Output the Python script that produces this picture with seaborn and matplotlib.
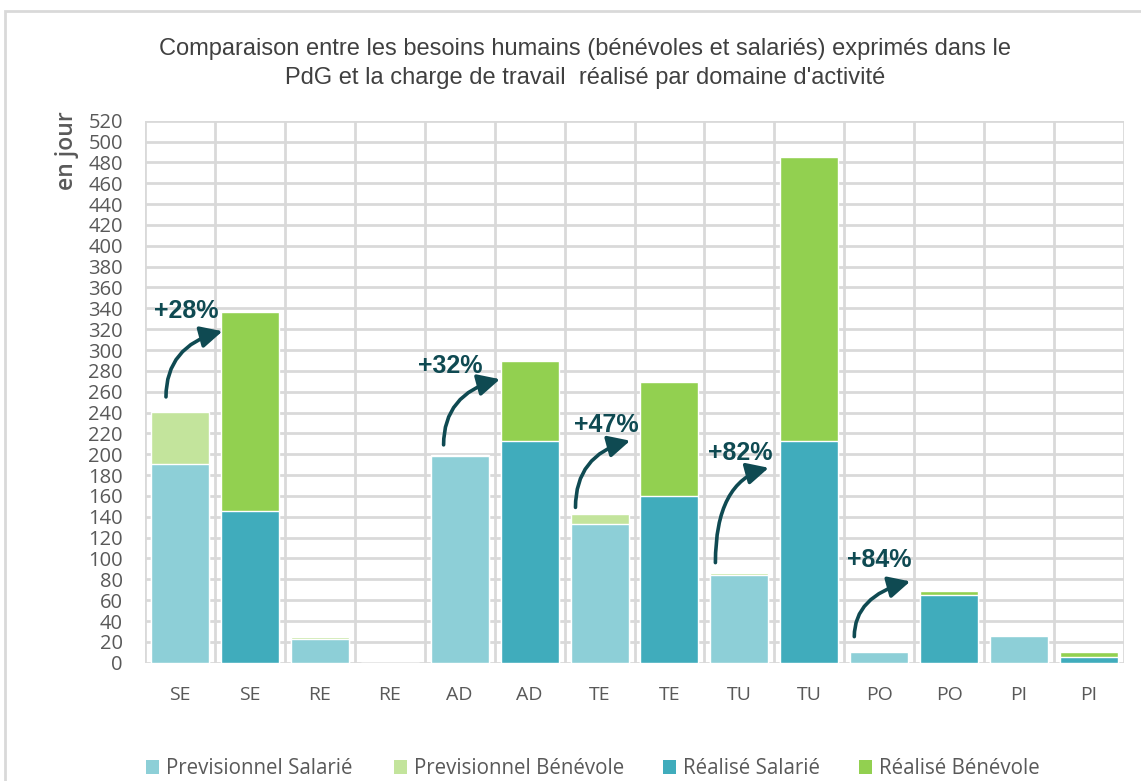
import matplotlib
matplotlib.use("Agg")
import matplotlib.pyplot as plt
from matplotlib.patches import Patch, Rectangle
import seaborn as sns
import pandas as pd
import numpy as np

# ---- data ----
categories = ["SE", "SE", "RE", "RE", "AD", "AD", "TE", "TE", "TU", "TU", "PO", "PO", "PI", "PI"]
phase = ["Previsionnel", "Réalisé"] * 7
salarie = [191, 146, 23, 0, 198, 213, 133, 160, 84, 213, 10, 65, 26, 5]
benevole = [50, 190, 2, 0, 1, 76, 10, 109, 2, 272, 0, 4, 0, 5]
yticks = list(range(0, 521, 20))

# annotations: label, start (x, y), tip (x, y)
ann_labels = ["+28%", "+32%", "+47%", "+82%", "+84%"]
ann_start = [(-0.2, 255), (3.77, 209), (5.656, 149), (7.657, 96), (9.643, 25)]
ann_tip = [(0.608, 318), (4.576, 272), (6.438, 213), (8.419, 187), (10.443, 78)]
ann_text = [(0.085, 337), (3.865, 285), (6.09, 228), (8.01, 201), (10.005, 99)]

legend_labels = ["Previsionnel Salarié", "Previsionnel Bénévole", "Réalisé Salarié", "Réalisé Bénévole"]

# ---- colours ----
c_prev_sal = "#8dcfd7"
c_prev_ben = "#c3e49c"
c_real_sal = "#40acbc"
c_real_ben = "#92d050"
grid_c = "#d9d9d9"
text_c = "#595959"
title_c = "#404040"
ann_c = "#0f4a52"

df = pd.DataFrame({
    "slot": list(range(len(categories))),
    "cat": categories,
    "phase": phase,
    "salarie": salarie,
    "benevole": benevole,
})
df["total"] = df["salarie"] + df["benevole"]

sal_pal = [c_prev_sal if p == "Previsionnel" else c_real_sal for p in phase]
ben_pal = [c_prev_ben if p == "Previsionnel" else c_real_ben for p in phase]

sns.set_theme(style="white")
plt.rcParams["font.family"] = ["Open Sans", "DejaVu Sans"]

fig = plt.figure(figsize=(11.41, 7.81), dpi=100)
ax = fig.add_axes([145 / 1141, 1 - 662.7 / 781, 979 / 1141, 542 / 781])

sns.barplot(data=df, x="slot", y="total", hue="slot", palette=ben_pal,
            legend=False, width=0.83, ax=ax, saturation=1, zorder=3)
sns.barplot(data=df, x="slot", y="salarie", hue="slot", palette=sal_pal,
            legend=False, width=0.83, ax=ax, saturation=1, zorder=4)

ax.set_xlim(-0.5, len(categories) - 0.5)
ax.set_ylim(0, 520)
ax.set_yticks(yticks)
ax.set_yticklabels([str(v) for v in yticks], fontsize=14.5, color=text_c)
ax.set_xticks(range(len(categories)))
ax.set_xticklabels(categories, fontsize=14, color=text_c)
ax.set_xticks(np.arange(-0.5, len(categories), 1.0), minor=True)
ax.tick_params(axis="y", length=0, pad=16)
ax.tick_params(axis="x", which="both", length=0, pad=17)
ax.set_xlabel("")
ax.set_ylabel("")
ax.grid(True, axis="y", which="major", color=grid_c, lw=2, zorder=0)
ax.grid(True, axis="x", which="minor", color=grid_c, lw=2, zorder=0)
ax.grid(False, axis="x", which="major")
for s in ax.spines.values():
    s.set_visible(False)
ax.set_axisbelow(True)

# annotations
for lab, st, tp, tx in zip(ann_labels, ann_start, ann_tip, ann_text):
    ax.annotate("", xy=tp, xytext=st, zorder=6,
                arrowprops=dict(arrowstyle="-|>,head_length=1.1,head_width=0.55",
                                connectionstyle="angle3,angleA=90,angleB=15",
                                color=ann_c, lw=2.6, mutation_scale=12,
                                shrinkA=0, shrinkB=0))
    ax.text(tx[0], tx[1], lab, ha="center", va="center", fontsize=18,
            fontweight="bold", color=ann_c, zorder=7,
            family=["Liberation Sans", "DejaVu Sans"])

# title
fig.text(585 / 1141, 1 - 49 / 781,
         "Comparaison entre les besoins humains (bénévoles et salariés) exprimés dans le",
         ha="center", va="center", fontsize=17, color=title_c,
         family=["Liberation Sans", "DejaVu Sans"])
fig.text(585 / 1141, 1 - 78 / 781,
         "PdG et la charge de travail  réalisé par domaine d'activité",
         ha="center", va="center", fontsize=17, color=title_c,
         family=["Liberation Sans", "DejaVu Sans"])

# y label
fig.text(66.7 / 1141, 1 - 151 / 781, "en jour", rotation=90, ha="center", va="center",
         fontsize=16.5, fontweight="semibold", color=text_c)

# legend entries
leg_x = [146, 394, 663, 859]
leg_cols = [c_prev_sal, c_prev_ben, c_real_sal, c_real_ben]
for x, lab, col in zip(leg_x, legend_labels, leg_cols):
    lg = fig.legend(handles=[Patch(facecolor=col, edgecolor="none")], labels=[lab],
                    loc="center left", bbox_to_anchor=(x / 1141, 1 - 769 / 781),
                    frameon=False, fontsize=14.8, handlelength=0.65, handleheight=0.65,
                    handletextpad=0.3, borderpad=0, borderaxespad=0)
    for t in lg.get_texts():
        t.set_color(text_c)

# outer frame (screenshot border)
fig.patches.append(Rectangle((5 / 1141, -0.1), 1.2, (1 - 11 / 781) + 0.1,
                             transform=fig.transFigure, fill=False,
                             edgecolor=grid_c, lw=2, zorder=0))

fig.savefig("out.png", dpi=100)
